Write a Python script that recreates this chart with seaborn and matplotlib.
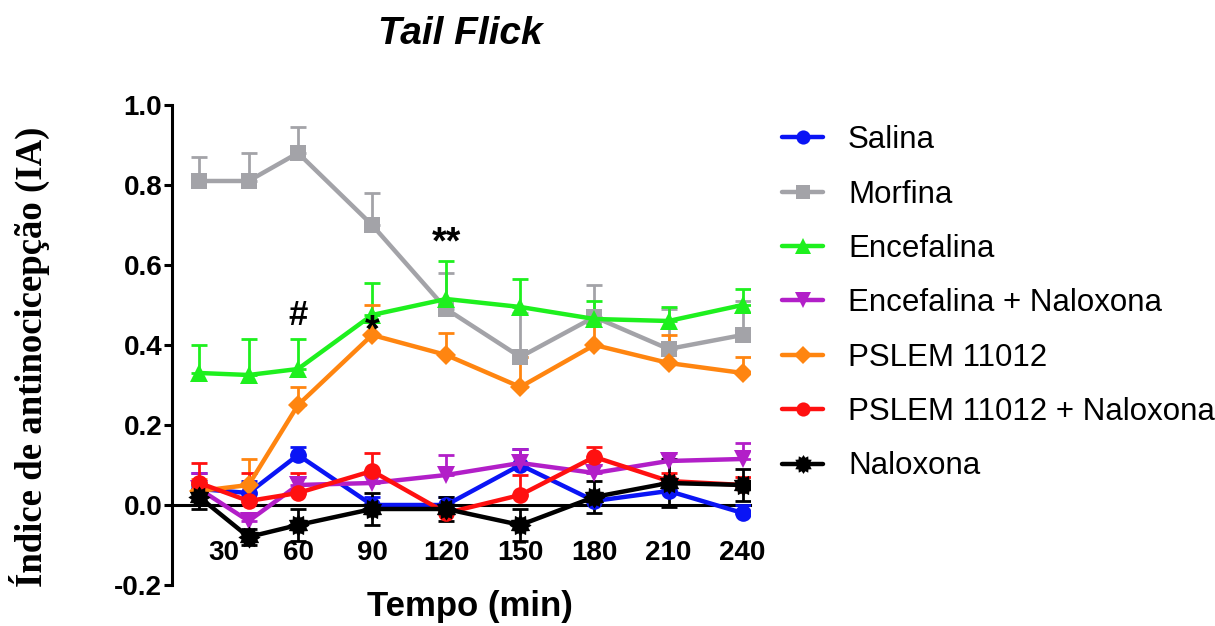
import numpy as np
import pandas as pd
import matplotlib
matplotlib.use("Agg")
import matplotlib.pyplot as plt
from matplotlib.lines import Line2D
import seaborn as sns

# ---- data -------------------------------------------------------------
tempo = [20, 40, 60, 90, 120, 150, 180, 210, 240]
tick_vals = [30, 60, 90, 120, 150, 180, 210, 240]

grupos = ["Salina", "Morfina", "Encefalina", "Encefalina + Naloxona",
          "PSLEM 11012", "PSLEM 11012 + Naloxona", "Naloxona"]

salina = [0.04, 0.03, 0.125, 0.00, 0.00, 0.10, 0.01, 0.035, -0.02]
salina_sem = [0.04, 0.03, 0.02, 0.02, 0.02, 0.04, 0.02, 0.02, 0.02]

morfina = [0.81, 0.81, 0.88, 0.70, 0.49, 0.37, 0.47, 0.39, 0.425]
morfina_sem = [0.06, 0.07, 0.065, 0.08, 0.09, 0.11, 0.08, 0.10, 0.085]

encefalina = [0.33, 0.325, 0.34, 0.475, 0.515, 0.495, 0.465, 0.46, 0.50]
encefalina_sem = [0.07, 0.09, 0.075, 0.08, 0.095, 0.07, 0.045, 0.035, 0.04]

enc_nal = [0.04, -0.04, 0.05, 0.055, 0.075, 0.105, 0.08, 0.11, 0.115]
enc_nal_sem = [0.04, 0.015, 0.02, 0.03, 0.05, 0.035, 0.02, 0.02, 0.04]

pslem = [0.035, 0.05, 0.25, 0.425, 0.375, 0.295, 0.40, 0.355, 0.33]
pslem_sem = [0.03, 0.065, 0.045, 0.075, 0.055, 0.075, 0.06, 0.07, 0.04]

pslem_nal = [0.055, 0.01, 0.03, 0.085, -0.02, 0.025, 0.12, 0.06, 0.05]
pslem_nal_sem = [0.05, 0.07, 0.05, 0.045, 0.02, 0.05, 0.025, 0.02, 0.02]

naloxona = [0.02, -0.08, -0.05, -0.01, -0.01, -0.05, 0.02, 0.055, 0.05]
naloxona_sem = [0.03, 0.02, 0.04, 0.04, 0.03, 0.04, 0.04, 0.06, 0.04]

medias = [salina, morfina, encefalina, enc_nal, pslem, pslem_nal, naloxona]
sems = [salina_sem, morfina_sem, encefalina_sem, enc_nal_sem,
        pslem_sem, pslem_nal_sem, naloxona_sem]

# ---- styles -----------------------------------------------------------
cores = {
    "Salina": "#0a14f5",
    "Morfina": "#a3a3a8",
    "Encefalina": "#1ef01e",
    "Encefalina + Naloxona": "#b21fc8",
    "PSLEM 11012": "#ff8510",
    "PSLEM 11012 + Naloxona": "#ff1010",
    "Naloxona": "#000000",
}

# serrated "asterisk" blob used for the Naloxona group
ang = np.linspace(0, 2 * np.pi, 25)[:-1]
raio = np.where(np.arange(24) % 2 == 0, 1.0, 0.74)
asterisco = list(zip(raio * np.sin(ang), raio * np.cos(ang)))

marcadores = {
    "Salina": "o",
    "Morfina": "s",
    "Encefalina": "^",
    "Encefalina + Naloxona": "v",
    "PSLEM 11012": "D",
    "PSLEM 11012 + Naloxona": "o",
    "Naloxona": asterisco,
}
tamanhos = {"Salina": 12, "Morfina": 12, "Encefalina": 13,
            "Encefalina + Naloxona": 13, "PSLEM 11012": 10.5,
            "PSLEM 11012 + Naloxona": 12, "Naloxona": 16}
bidirecional = {"Naloxona"}

df = pd.concat([
    pd.DataFrame({"Tempo": tempo, "IA": m, "Grupo": g})
    for g, m in zip(grupos, medias)
], ignore_index=True)

# ---- figure -----------------------------------------------------------
sns.set_theme(style="white")
plt.rcParams["font.family"] = ["Liberation Sans", "DejaVu Sans"]
plt.rcParams.update({"text.color": "black", "axes.labelcolor": "black",
                     "xtick.color": "black", "ytick.color": "black"})

fig = plt.figure(figsize=(12.15, 6.26), dpi=100)
ax = fig.add_axes([0.1416, 0.0655, 0.4757, 0.7668])

# error bars (upper only, except Naloxona)
for g, m, s in zip(grupos, medias, sems):
    s = np.asarray(s)
    low = s if g in bidirecional else np.zeros_like(s)
    ax.errorbar(tempo, m, yerr=[low, s], fmt="none", ecolor=cores[g],
                elinewidth=2.0, capsize=6, capthick=2.0, zorder=1.5)

sns.lineplot(data=df, x="Tempo", y="IA", hue="Grupo", style="Grupo",
             hue_order=grupos, style_order=grupos, palette=cores,
             markers=marcadores, dashes=False, linewidth=3.2,
             markersize=12, markeredgewidth=0, legend=False, ax=ax,
             zorder=2)

for ln, g in zip(ax.lines[-len(grupos):], grupos):
    ln.set_markersize(tamanhos[g])

ax.set_xlim(9, 243)
ax.set_ylim(-0.2, 1.0)

# axes styling
for side in ("top", "right"):
    ax.spines[side].set_visible(False)
ax.spines["left"].set_linewidth(2.2)
ax.spines["left"].set_color("black")
ax.spines["bottom"].set_position(("data", 0))
ax.spines["bottom"].set_linewidth(2.2)
ax.spines["bottom"].set_color("black")
ax.spines["bottom"].set_zorder(1.2)

yt = [-0.2, 0.0, 0.2, 0.4, 0.6, 0.8, 1.0]
ax.set_yticks(yt)
ax.set_yticklabels([f"{v:.1f}" for v in yt])
ax.set_xticks(tick_vals)
ax.set_xticklabels([str(v) for v in tick_vals])
ax.tick_params(axis="y", length=6, width=2.2, pad=1, direction="out",
               left=True, labelsize=20)
ax.tick_params(axis="x", length=0, pad=25, labelsize=20)
for lab in ax.get_xticklabels() + ax.get_yticklabels():
    lab.set_fontweight("bold")

ax.set_xlabel("Tempo (min)", fontsize=25, fontweight="bold")
ax.xaxis.set_label_coords(0.516, -0.01)
ax.set_ylabel("Índice de antinocicepção (IA)", fontsize=26.5,
              fontweight="bold", family=["Liberation Serif", "DejaVu Serif"])
ax.yaxis.set_label_coords(-0.212, 0.475)

ax.set_title("Tail Flick", fontsize=28, fontweight="bold", style="italic",
             x=0.498, y=1.148, va="center", pad=0)

# significance marks
ax.text(60, 0.45, "#", fontsize=25, fontweight="bold", ha="center",
        va="baseline")
ax.text(90, 0.41, "*", fontsize=27, fontweight="bold", ha="center",
        va="baseline")
ax.text(120, 0.63, "**", fontsize=27, fontweight="bold", ha="center",
        va="baseline")

# legend
handles = [Line2D([], [], color=cores[g], marker=marcadores[g], lw=3.2,
                  markersize=tamanhos[g] * 0.85, markeredgewidth=0)
           for g in grupos]
fig.legend(handles, grupos, loc="upper left",
           bbox_to_anchor=(0.644, 0.80), frameon=False, fontsize=22.5,
           handlelength=1.3, handletextpad=0.8, labelspacing=0.78,
           borderpad=0, borderaxespad=0)

fig.savefig("out.png", dpi=100)
